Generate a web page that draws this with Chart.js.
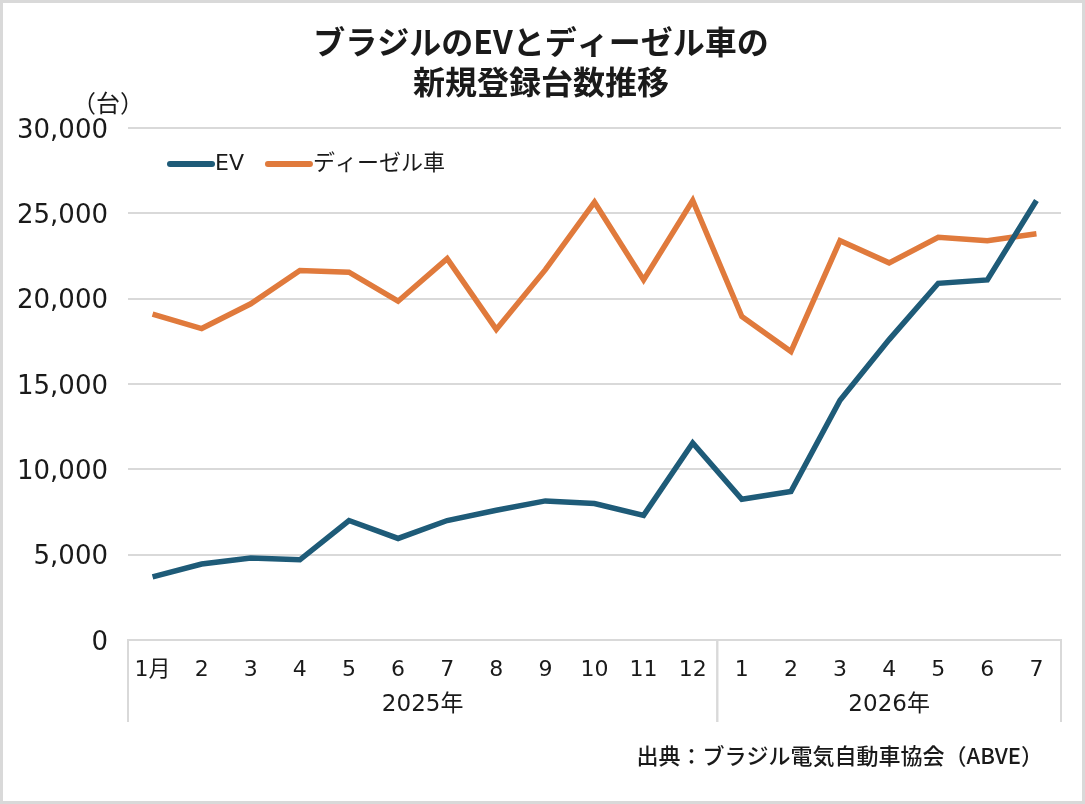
<!DOCTYPE html>
<html>
<head>
<meta charset="utf-8">
<script src="https://cdn.jsdelivr.net/npm/chart.js@4"></script>
<style>
  body { margin: 0; background: #fff; }
  #wrap { width: 1085px; height: 804px; }
</style>
</head>
<body>
<div id="wrap"><canvas id="chart" width="1085" height="804"></canvas></div>
<script>
// ブラジルのEVとディーゼル車の新規登録台数推移
const months = ["1月", "2", "3", "4", "5", "6", "7", "8", "9", "10", "11", "12",
                "1", "2", "3", "4", "5", "6", "7"];
const yearLabels = ["2025年", "2026年"];
const yearSpans = [12, 7];

const evValues = [3700, 4450, 4800, 4700, 7000, 5950, 7000, 7600, 8150, 8000, 7300, 11550,
                  8250, 8700, 14050, 17600, 20900, 21100, 25750];
const dieselValues = [19100, 18250, 19700, 21650, 21550, 19850, 22350, 18200, 21700, 25650, 21100, 25750,
                      18950, 16900, 23400, 22100, 23600, 23400, 23800];

const FONT = "'Noto Sans CJK JP', 'Noto Sans', sans-serif";
const NUMFONT = "'DejaVu Sans', 'Noto Sans CJK JP', sans-serif";
const TEXT = "#1a1a1a";
const GRID = "#d9d9d9";

// 背景・タイトル・凡例・年ラベルなどを描く
const decor = {
    id: "decor",
    beforeDraw(chart) {
        const ctx = chart.ctx;
        ctx.save();
        ctx.fillStyle = "#fff";
        ctx.fillRect(0, 0, chart.width, chart.height);
        ctx.restore();
    },
    afterDraw(chart) {
        const ctx = chart.ctx;
        const area = chart.chartArea;
        const x = chart.scales.x;
        ctx.save();
        ctx.fillStyle = TEXT;
        ctx.textBaseline = "middle";

        // タイトル
        ctx.textAlign = "center";
        ctx.font = "bold 32px " + FONT;
        ctx.fillText("ブラジルのEVとディーゼル車の", 541, 42);
        ctx.fillText("新規登録台数推移", 541, 82);

        // 単位
        ctx.font = "24px " + FONT;
        ctx.fillText("（台）", 108, 103);

        // 凡例
        ctx.textAlign = "left";
        let lx = 170;
        chart.data.datasets.forEach(ds => {
            ctx.strokeStyle = ds.borderColor;
            ctx.lineWidth = 6;
            ctx.lineCap = "round";
            ctx.beginPath();
            ctx.moveTo(lx, 164);
            ctx.lineTo(lx + 42, 164);
            ctx.stroke();
            ctx.font = "22px " + NUMFONT;
            ctx.fillText(ds.label, lx + 45, 164);
            lx += 45 + ctx.measureText(ds.label).width + 24;
        });

        // 年の区切り線とラベル
        const half = (x.getPixelForValue(1) - x.getPixelForValue(0)) / 2;
        ctx.strokeStyle = GRID;
        ctx.lineWidth = 2;
        ctx.lineCap = "butt";
        ctx.textAlign = "center";
        ctx.font = "23px " + NUMFONT;
        let start = 0;
        yearLabels.forEach((lab, i) => {
            const end = start + yearSpans[i] - 1;
            const left = x.getPixelForValue(start) - half;
            const right = x.getPixelForValue(end) + half;
            [left, right].forEach(px => {
                ctx.beginPath();
                ctx.moveTo(px, area.bottom);
                ctx.lineTo(px, 722);
                ctx.stroke();
            });
            ctx.fillText(lab, (left + right) / 2, 705);
            start = end + 1;
        });

        // 出典
        ctx.textAlign = "right";
        ctx.font = "500 22px " + FONT;
        ctx.fillText("出典：ブラジル電気自動車協会（ABVE）", 1043, 756);

        // 枠
        ctx.strokeStyle = GRID;
        ctx.lineWidth = 3;
        ctx.strokeRect(1.5, 1.5, chart.width - 3, chart.height - 3);
        ctx.restore();
    }
};

new Chart(document.querySelector("#chart"), {
    type: "line",
    data: {
        labels: months,
        datasets: [
            {
                label: "EV",
                data: evValues,
                borderColor: "#1e5b78",
                backgroundColor: "#1e5b78",
                borderWidth: 5.5,
                pointRadius: 0,
                tension: 0
            },
            {
                label: "ディーゼル車",
                data: dieselValues,
                borderColor: "#e07a3c",
                backgroundColor: "#e07a3c",
                borderWidth: 5.5,
                pointRadius: 0,
                tension: 0
            }
        ]
    },
    options: {
        responsive: false,
        animation: false,
        devicePixelRatio: 1,
        layout: {
            padding: {top: 128, left: 0, right: 24, bottom: 80}
        },
        plugins: {
            legend: {display: false},
            title: {display: false},
            tooltip: {enabled: false}
        },
        scales: {
            x: {
                offset: true,
                grid: {display: false},
                border: {display: true, color: GRID, width: 2},
                ticks: {
                    color: TEXT,
                    font: {family: NUMFONT, size: 22},
                    padding: 9,
                    maxRotation: 0,
                    autoSkip: false
                },
                afterFit: scale => { scale.height = 84; }
            },
            y: {
                min: 0,
                max: 30000,
                ticks: {
                    stepSize: 5000,
                    color: TEXT,
                    font: {family: NUMFONT, size: 26},
                    padding: 20,
                    labelOffset: 3,
                    callback: v => v.toLocaleString("en-US")
                },
                grid: {color: GRID, lineWidth: 2, drawTicks: false},
                border: {display: false},
                afterFit: scale => { scale.width = 128; }
            }
        }
    },
    plugins: [decor]
});
</script>
</body>
</html>
